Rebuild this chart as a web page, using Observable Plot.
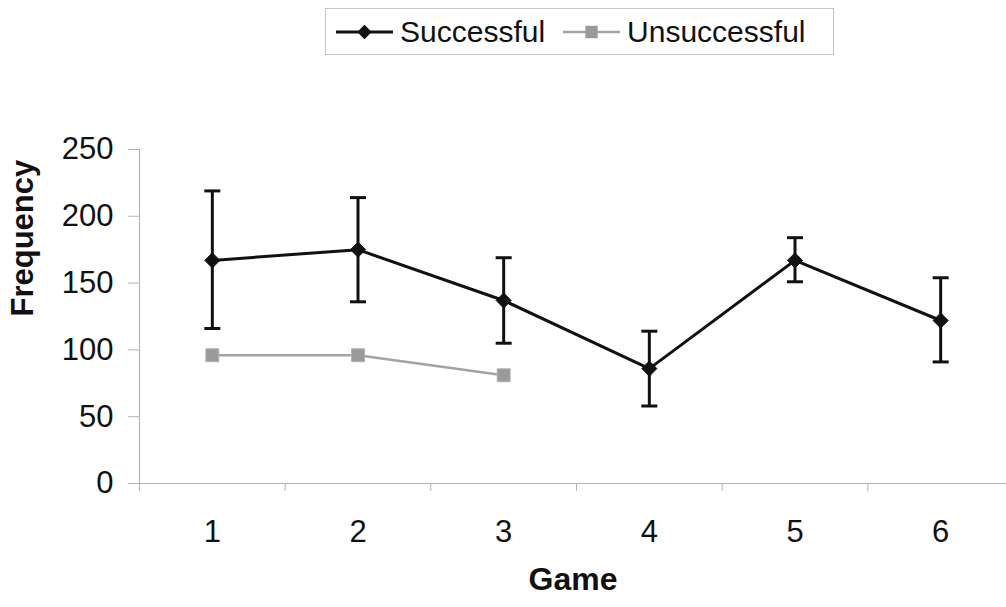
<!DOCTYPE html>
<html>
<head>
<meta charset="utf-8">
<script src="https://cdn.jsdelivr.net/npm/d3@7"></script>
<script src="https://cdn.jsdelivr.net/npm/@observablehq/plot@0.6"></script>
<style>
  body { margin: 0; background: #fff; font-family: "Liberation Sans", Arial, sans-serif; color: #111; }
  #wrap { position: relative; width: 1006px; height: 607px; overflow: hidden; background: #fff; }
  #legend {
    position: absolute; left: 325px; top: 8px; width: 507px; height: 45px;
    border: 1px solid #c4c4c4; display: flex; align-items: center;
  }
  #legend .item { display: flex; align-items: center; }
  #legend .item span { font-size: 30px; line-height: 1; color: #111; }
  #chart { position: absolute; left: 0; top: 100px; }
</style>
</head>
<body>
<div id="wrap">
  <div id="legend"></div>
  <div id="chart"></div>
</div>
<script>
// Game number on the x axis
const games = [1, 2, 3, 4, 5, 6];
// Successful: mean frequency with error-bar bounds
const successMean = [167, 175, 137, 86, 167, 122];
const successLow  = [116, 136, 105, 58, 151, 91];
const successHigh = [219, 214, 169, 114, 184, 154];
// Unsuccessful: only recorded for the first three games
const unsuccessGames = [1, 2, 3];
const unsuccessMean  = [96, 96, 81];
// Axis ticks
const yTicks = [0, 50, 100, 150, 200, 250];
const xBoundaries = [0.5, 1.5, 2.5, 3.5, 4.5, 5.5, 6.5];
const seriesNames = ["Successful", "Unsuccessful"];

const successful = games.map((g, i) => ({game: g, mean: successMean[i], low: successLow[i], high: successHigh[i]}));
const unsuccessful = unsuccessGames.map((g, i) => ({game: g, mean: unsuccessMean[i]}));

const black = "#111";
const grayLine = "#a3a3a3";
const grayMark = "#9a9a9a";
const axisGray = "#b4b4b4";
const capHalf = 0.055; // half-width of error-bar caps, in game units

const chart = Plot.plot({
  width: 1006,
  height: 507,
  marginTop: 49,
  marginBottom: 124,
  marginLeft: 139,
  marginRight: 0,
  style: {fontFamily: "'Liberation Sans', Arial, sans-serif", background: "#fff", color: black},
  x: {domain: [0.5, 6.5], range: [139, 1013]},
  y: {domain: [0, 250]},
  marks: [
    // frame lines
    Plot.ruleY([0], {stroke: axisGray, strokeWidth: 1.2}),
    Plot.ruleX([0.5], {stroke: axisGray, strokeWidth: 1.2}),
    // y axis
    Plot.axisY({ticks: yTicks, tickSize: 11, tickPadding: 15, stroke: axisGray, fill: black, fontSize: 31, label: null}),
    // x axis: tick marks at category boundaries, labels at category centers
    Plot.axisX({ticks: xBoundaries, tickSize: 8, tickFormat: () => "", stroke: axisGray, label: null}),
    Plot.axisX({ticks: games, tickSize: 0, tickPadding: 36, tickFormat: d => String(d), fill: black, fontSize: 31, label: null}),
    // axis titles
    Plot.text(["Frequency"], {text: d => d, frameAnchor: "left", dx: -116, rotate: -90, fontSize: 31, fontWeight: "bold", fill: black}),
    Plot.text(["Game"], {text: d => d, frameAnchor: "bottom", dy: 106, fontSize: 32, fontWeight: "bold", fill: black}),
    // Unsuccessful series
    Plot.line(unsuccessful, {x: "game", y: "mean", stroke: grayLine, strokeWidth: 2.5}),
    Plot.dot(unsuccessful, {x: "game", y: "mean", symbol: "square", r: 7.3, fill: grayMark, stroke: "#b2b2b2", strokeWidth: 1}),
    // Successful series with error bars
    Plot.ruleX(successful, {x: "game", y1: "low", y2: "high", stroke: black, strokeWidth: 3}),
    Plot.link(successful, {x1: d => d.game - capHalf, x2: d => d.game + capHalf, y1: "high", y2: "high", stroke: black, strokeWidth: 3}),
    Plot.link(successful, {x1: d => d.game - capHalf, x2: d => d.game + capHalf, y1: "low", y2: "low", stroke: black, strokeWidth: 3}),
    Plot.line(successful, {x: "game", y: "mean", stroke: black, strokeWidth: 3}),
    Plot.dot(successful, {x: "game", y: "mean", symbol: "diamond2", r: 6.8, fill: black, stroke: black, strokeWidth: 1})
  ]
});
document.getElementById("chart").appendChild(chart);

// Legend: line swatch with marker, then series name
const legend = d3.select("#legend");
const swatches = [
  {name: seriesNames[0], stroke: black, width: 3, symbol: d3.symbolDiamond2, size: 6.5 * 6.5 * Math.PI, fill: black},
  {name: seriesNames[1], stroke: grayLine, width: 2.5, symbol: d3.symbolSquare, size: 7 * 7 * Math.PI, fill: grayMark}
];
swatches.forEach((s, i) => {
  const item = legend.append("div").attr("class", "item").style("margin-left", i === 0 ? "10px" : "18px");
  const svg = item.append("svg").attr("width", 57).attr("height", 30).style("display", "block");
  svg.append("line").attr("x1", 0).attr("x2", 57).attr("y1", 15).attr("y2", 15)
    .attr("stroke", s.stroke).attr("stroke-width", s.width);
  svg.append("path").attr("transform", "translate(28.5,15)")
    .attr("d", d3.symbol(s.symbol, s.size)()).attr("fill", s.fill);
  item.append("span").style("margin-left", "7px").text(s.name);
});
</script>
</body>
</html>
